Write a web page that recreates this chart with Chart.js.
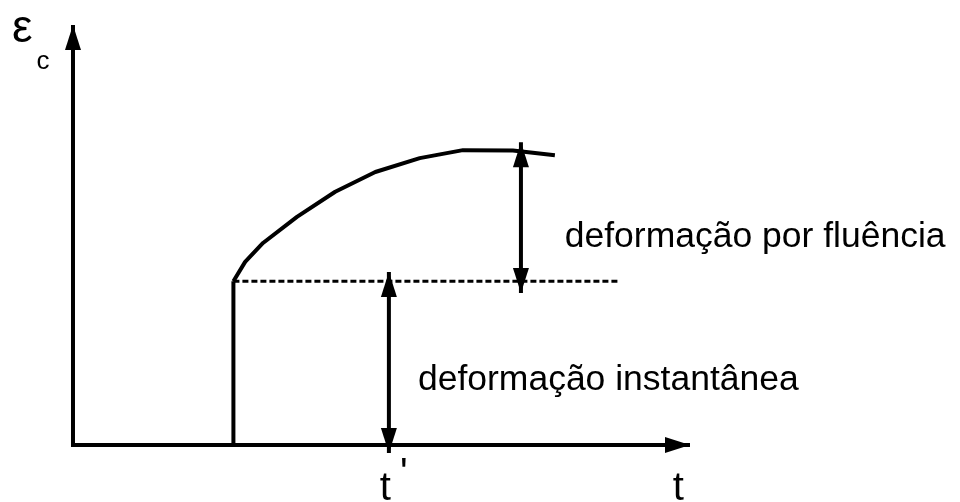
<!DOCTYPE html>
<html>
<head>
<meta charset="utf-8">
<script src="https://cdn.jsdelivr.net/npm/chart.js@4.4.0/dist/chart.umd.min.js"></script>
<style>
  body { margin: 0; background: #fff; }
</style>
</head>
<body>
<canvas id="creep_chart" width="960" height="502"></canvas>
<script>
// t = tempo, eps = deformação (unidades arbitrárias)
var tAxisEnd = 10;
var epsAxisEnd = 10;
var tLoad = 2.6;        // t', carga aplicada
var epsInstant = 3.9;   // deformação instantânea
var tDotEnd = 8.87;

var tCurve = [2.6, 2.79, 3.08, 3.63, 4.25, 4.9, 5.62, 6.32, 7.13, 7.81];
var epsCurve = [3.9, 4.36, 4.81, 5.43, 6.03, 6.5, 6.83, 7.02, 7.01, 6.9];

var tCreepArrow = 7.26;
var creepArrowEps = [3.62, 7.21];
var tInstArrow = 5.12;
var instArrowEps = [-0.19, 4.12];

var labelTexts = ["deformação por fluência", "deformação instantânea", "t", "'", "t", "ε", "c"];

function pts(xs, ys) {
  return xs.map(function (x, i) { return { x: x, y: ys[i] }; });
}

var FONT = '"Liberation Sans", Arial, sans-serif';

// where each label sits (t, eps) and its size
var labelPlaces = [
  { t: 7.97, eps: 4.71, size: 35.5 },
  { t: 5.59, eps: 1.31, size: 35.5 },
  { t: 4.97, eps: -1.31, size: 40 },
  { t: 5.30, eps: -0.98, size: 40 },
  { t: 9.72, eps: -1.31, size: 40 },
  { t: -0.99, eps: 9.6, size: 46 },
  { t: -0.59, eps: 8.95, size: 26 },
];

var arrowHeads = {
  id: "arrowHeads",
  afterDatasetsDraw: function (chart) {
    var ctx = chart.ctx;
    chart.data.datasets.forEach(function (ds, i) {
      if (!ds.arrowAt) return;
      var p = chart.getDatasetMeta(i).data;
      ds.arrowAt.forEach(function (where) {
        var tip = where === "end" ? p[p.length - 1] : p[0];
        var from = where === "end" ? p[p.length - 2] : p[1];
        var a = Math.atan2(tip.y - from.y, tip.x - from.x);
        var len = 25, half = 8;
        ctx.save();
        ctx.translate(tip.x, tip.y);
        ctx.rotate(a);
        ctx.beginPath();
        ctx.moveTo(0, 0);
        ctx.lineTo(-len, -half);
        ctx.lineTo(-len, half);
        ctx.closePath();
        ctx.fillStyle = "#000";
        ctx.fill();
        ctx.restore();
      });
    });
  },
};

var textLabels = {
  id: "textLabels",
  afterDraw: function (chart) {
    var ctx = chart.ctx;
    ctx.save();
    ctx.fillStyle = "#000";
    ctx.textBaseline = "alphabetic";
    ctx.textAlign = "left";
    labelTexts.forEach(function (txt, i) {
      var pl = labelPlaces[i];
      ctx.font = pl.size + "px " + FONT;
      ctx.fillText(txt, chart.scales.x.getPixelForValue(pl.t), chart.scales.y.getPixelForValue(pl.eps));
    });
    ctx.restore();
  },
};

function lineSet(data, width, extra) {
  var ds = {
    data: data,
    showLine: true,
    borderColor: "#000",
    borderWidth: width,
    pointRadius: 0,
    tension: 0,
    clip: false,
    borderCapStyle: "butt",
  };
  return Object.assign(ds, extra || {});
}

new Chart("creep_chart", {
  type: "scatter",
  data: {
    datasets: [
      // eixos
      lineSet(pts([0, 0, tAxisEnd], [epsAxisEnd, 0, 0]), 4, { arrowAt: ["start", "end"] }),
      // degrau de carga
      lineSet(pts([tLoad, tLoad], [0, epsInstant]), 4),
      // fluência
      lineSet(pts(tCurve, epsCurve), 4, { borderJoinStyle: "round" }),
      // nível da deformação instantânea
      lineSet(pts([tLoad, tDotEnd], [epsInstant, epsInstant]), 3, { borderDash: [6, 3] }),
      // setas
      lineSet(pts([tCreepArrow, tCreepArrow], creepArrowEps), 4, { arrowAt: ["start", "end"] }),
      lineSet(pts([tInstArrow, tInstArrow], instArrowEps), 4, { arrowAt: ["start", "end"] }),
    ],
  },
  options: {
    responsive: false,
    animation: false,
    layout: { padding: 0 },
    scales: {
      x: { type: "linear", min: -1.183, max: 14.376, display: false },
      y: { type: "linear", min: -1.357, max: 10.595, display: false },
    },
    plugins: { legend: { display: false }, tooltip: { enabled: false } },
  },
  plugins: [arrowHeads, textLabels],
});
</script>
</body>
</html>
